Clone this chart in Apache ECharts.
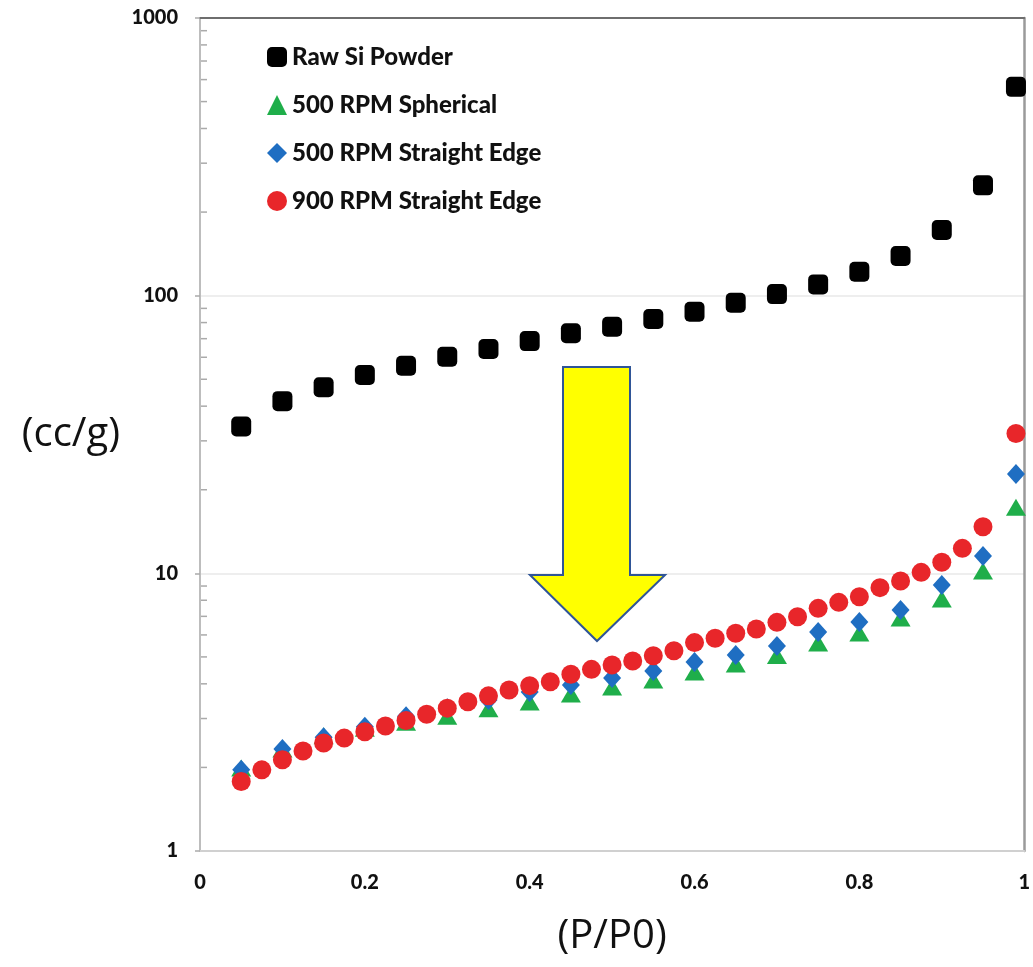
<!DOCTYPE html>
<html>
<head>
<meta charset="utf-8">
<script src="https://cdn.jsdelivr.net/npm/echarts@6/dist/echarts.min.js"></script>
<style>
  html, body { margin: 0; padding: 0; background: #fff; }
  #chart { width: 1033px; height: 967px; }
</style>
</head>
<body>
<div id="chart"></div>
<script>
// relative pressure points
const xCoarse = [0.05, 0.1, 0.15, 0.2, 0.25, 0.3, 0.35, 0.4, 0.45, 0.5, 0.55, 0.6, 0.65, 0.7, 0.75, 0.8, 0.85, 0.9, 0.95, 0.99];
const xFine = [0.05, 0.075, 0.1, 0.125, 0.15, 0.175, 0.2, 0.225, 0.25, 0.275, 0.3, 0.325, 0.35, 0.375, 0.4, 0.425,
  0.45, 0.475, 0.5, 0.525, 0.55, 0.575, 0.6, 0.625, 0.65, 0.675, 0.7, 0.725, 0.75, 0.775, 0.8, 0.825, 0.85, 0.875,
  0.9, 0.925, 0.95, 0.99];

// adsorbed volume (cc/g)
const rawSi = [33.8, 41.7, 46.8, 51.8, 55.9, 60.3, 64.3, 68.6, 73.2, 77.3, 82.4, 87.5, 94.3, 101.3, 109.8, 121.9, 138.9, 172.3, 249.6, 565];
const rpm500Spherical = [1.99, 2.33, 2.6, 2.77, 2.91, 3.06, 3.25, 3.44, 3.68, 3.9, 4.13, 4.41, 4.71, 5.06, 5.61, 6.1, 6.9, 8.08, 10.19, 17.3];
const rpm500Straight = [1.96, 2.33, 2.57, 2.8, 3.06, 3.27, 3.5, 3.74, 3.96, 4.2, 4.45, 4.79, 5.08, 5.47, 6.15, 6.68, 7.38, 9.08, 11.54, 22.8];
const rpm900Straight = [1.78, 1.96, 2.13, 2.29, 2.45, 2.55, 2.69, 2.82, 2.95, 3.11, 3.27, 3.45, 3.62, 3.8, 3.94, 4.07,
  4.33, 4.51, 4.68, 4.83, 5.05, 5.26, 5.63, 5.84, 6.08, 6.3, 6.66, 6.98, 7.48, 7.86, 8.24, 8.88, 9.38, 10.08,
  10.96, 12.3, 14.72, 31.9];

const seriesNames = ['Raw Si Powder', '500 RPM Spherical', '500 RPM Straight Edge', '900 RPM Straight Edge'];
const xTicks = [0, 0.2, 0.4, 0.6, 0.8, 1];
const yTicks = [1, 10, 100, 1000];
const yMinorTicks = [2, 3, 4, 5, 6, 7, 8, 9, 20, 30, 40, 50, 60, 70, 80, 90, 200, 300, 400, 500, 600, 700, 800, 900];

const pair = (xs, ys) => xs.map((x, i) => [x, ys[i]]);

const chart = echarts.init(document.getElementById('chart'));

chart.setOption({
  backgroundColor: '#fff',
  animation: false,
  textStyle: { fontFamily: 'Lato' },
  grid: { left: 200, right: 6, top: 18, bottom: 116, containLabel: false },
  legend: {
    data: seriesNames,
    orient: 'vertical',
    left: 262,
    top: 40,
    itemWidth: 20,
    itemHeight: 20,
    itemGap: 24,
    textStyle: { fontFamily: 'Lato', fontWeight: 900, fontSize: 24, color: '#111' }
  },
  xAxis: [{
    type: 'value',
    min: 0,
    max: 1,
    interval: 0.2,
    name: '(P/P0)',
    nameLocation: 'middle',
    nameGap: 66,
    nameTextStyle: { fontFamily: 'Open Sans', fontSize: 40, color: '#111' },
    axisLine: { show: true, lineStyle: { color: '#d0d0d0', width: 2 } },
    axisTick: { show: false },
    splitLine: { show: false },
    axisLabel: {
      margin: 22,
      fontFamily: 'Lato', fontWeight: 900, fontSize: 20, color: '#111',
      formatter: v => xTicks.includes(+v.toFixed(1)) ? String(+v.toFixed(1)) : ''
    }
  }, {
    type: 'value',
    position: 'top',
    min: 0,
    max: 1,
    axisLine: { show: true, onZero: false, lineStyle: { color: '#6e6e6e', width: 2 } },
    axisTick: { show: false },
    axisLabel: { show: false },
    splitLine: { show: false }
  }],
  yAxis: [{
    type: 'log',
    logBase: 10,
    min: 1,
    max: 1000,
    name: '(cc/g)',
    nameLocation: 'middle',
    nameRotate: 0,
    nameGap: 80,
    nameTextStyle: { fontFamily: 'Open Sans', fontSize: 40, color: '#111', padding: [62, 0, 0, 0] },
    axisLine: { show: true, lineStyle: { color: '#bdbdbd', width: 2 } },
    axisTick: { show: true, length: 5, lineStyle: { color: '#aaa', width: 1.5 } },
    splitLine: { show: true, lineStyle: { color: '#e8e8e8', width: 1.5 } },
    axisLabel: {
      margin: 22, fontFamily: 'Lato', fontWeight: 900, fontSize: 20, color: '#111',
      formatter: v => {
        const t = yTicks.find(k => Math.abs(k - v) / k < 1e-6);
        return t === undefined ? '' : String(t);
      }
    }
  }, {
    type: 'log',
    logBase: 10,
    min: 1,
    max: 1000,
    position: 'right',
    axisLine: { show: true, onZero: false, lineStyle: { color: '#9a9a9a', width: 2.5 } },
    axisTick: { show: false },
    axisLabel: { show: false },
    splitLine: { show: false }
  }],
  series: [
    {
      // minor ticks of the log axis (2..9 per decade), drawn inside the plot
      type: 'custom',
      silent: true,
      clip: false,
      z: 1,
      data: yMinorTicks.map(v => [0, v]),
      renderItem: (params, api) => {
        const p = api.coord([0, api.value(1)]);
        return {
          type: 'line',
          shape: { x1: p[0] + 1, y1: p[1], x2: p[0] + 7, y2: p[1] },
          style: { stroke: '#aaa', lineWidth: 1.5 }
        };
      }
    },
    {
      name: seriesNames[0],
      type: 'scatter',
      symbol: 'roundRect',
      symbolSize: 20,
      itemStyle: { color: '#000', opacity: 1 },
      data: pair(xCoarse, rawSi)
    },
    {
      name: seriesNames[1],
      type: 'scatter',
      symbol: 'triangle',
      symbolSize: [20, 17],
      itemStyle: { color: '#1fae4a', opacity: 1 },
      data: pair(xCoarse, rpm500Spherical)
    },
    {
      name: seriesNames[2],
      type: 'scatter',
      symbol: 'diamond',
      symbolSize: [18, 20],
      itemStyle: { color: '#1f6ec2', opacity: 1 },
      data: pair(xCoarse, rpm500Straight)
    },
    {
      name: seriesNames[3],
      type: 'scatter',
      symbol: 'circle',
      symbolSize: 19,
      itemStyle: { color: '#e8262a', opacity: 1 },
      data: pair(xFine, rpm900Straight)
    }
  ],
  graphic: [{
    // big downward arrow annotation
    type: 'polygon',
    z: 100,
    shape: {
      points: [[563, 367], [630, 367], [630, 575], [665, 575], [597, 641], [530, 575], [563, 575]]
    },
    style: { fill: '#ffff00', stroke: '#2f5597', lineWidth: 2 }
  }]
});
</script>
</body>
</html>
